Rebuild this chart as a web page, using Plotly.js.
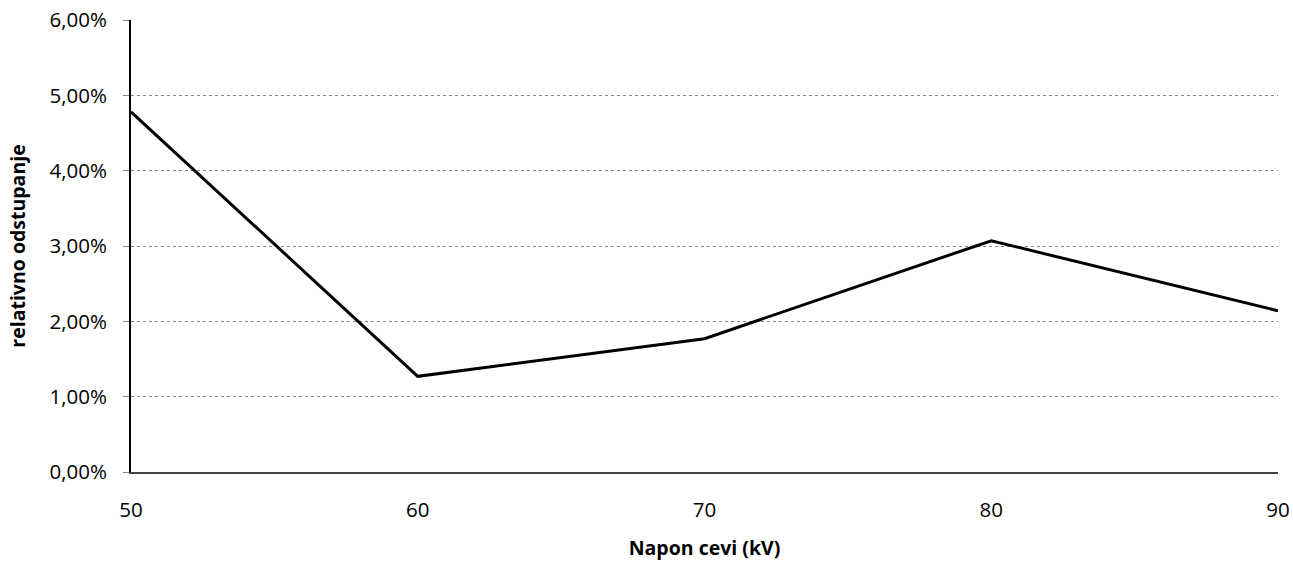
<!DOCTYPE html>
<html>
<head>
<meta charset="utf-8">
<script src="https://cdn.plot.ly/plotly-3.0.1.min.js"></script>
<style>html,body{margin:0;padding:0;background:#fff;}#chart{width:1293px;height:564px;}</style>
</head>
<body>
<div id="chart"></div>
<script>
const voltages = ['50', '60', '70', '80', '90'];
const deviation = [0.0478, 0.0127, 0.0177, 0.0307, 0.0214];
const yTicks = [0, 0.01, 0.02, 0.03, 0.04, 0.05, 0.06];

const trace = {
  x: voltages,
  y: deviation,
  type: 'scatter',
  mode: 'lines',
  line: {color: '#000000', width: 3},
  hoverinfo: 'skip'
};

const layout = {
  width: 1293,
  height: 564,
  margin: {l: 131, r: 15, t: 20, b: 92},
  paper_bgcolor: '#ffffff',
  plot_bgcolor: '#ffffff',
  separators: ', ',
  showlegend: false,
  font: {family: 'Open Sans, sans-serif', color: '#000000', size: 18},
  xaxis: {
    type: 'category',
    range: [0, 4],
    showgrid: false,
    zeroline: false,
    showline: true,
    linecolor: '#444444',
    linewidth: 1.5,
    ticks: '',
    ticklabelstandoff: 19,
    tickfont: {size: 20.5},
    title: {text: '<b>Napon cevi (kV)</b>', font: {size: 19.5}, standoff: 19}
  },
  yaxis: {
    range: [0, 0.06],
    tickvals: yTicks,
    tickformat: '.2%',
    showgrid: true,
    gridcolor: '#858585',
    griddash: 'dot',
    gridwidth: 1,
    zeroline: false,
    showline: true,
    linecolor: '#000000',
    linewidth: 2,
    ticks: 'outside',
    ticklen: 6,
    tickcolor: '#858585',
    ticklabelstandoff: 12,
    tickfont: {size: 20.5},
    title: {text: '<b>relativno odstupanje</b>', font: {size: 19.5}, standoff: 19}
  }
};

Plotly.newPlot('chart', [trace], layout, {staticPlot: true, displayModeBar: false});
</script>
</body>
</html>
